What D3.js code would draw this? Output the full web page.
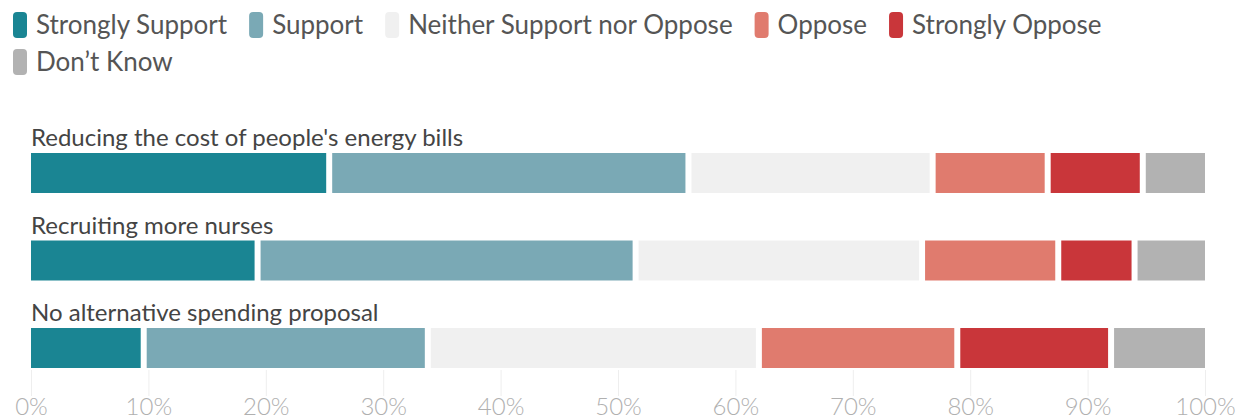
<!DOCTYPE html>
<html lang="en">
<head>
  <meta charset="UTF-8">
  <title>Support for spending proposals</title>
  <script src="https://d3js.org/d3.v7.min.js"></script>
  <style>
    body { margin: 0; background: #fff; }
    text { font-family: Lato, "Open Sans", sans-serif; }
    .legend-label { fill: #555; font-size: 26px; }
    .row-label { fill: #444; font-size: 24px; }
    .axis text { fill: #b0b0b0; font-size: 24px; font-weight: 300; }
    .axis .domain { display: none; }
    .axis line { stroke: #eee; }
  </style>
</head>
<body>
  <div id="chart"></div>
  <script>
    var w = 1244;
    var h = 420;

    // data
    var categories = [
      "Reducing the cost of people's energy bills",
      "Recruiting more nurses",
      "No alternative spending proposal"
    ];
    var responses = ["Strongly Support", "Support", "Neither Support nor Oppose",
                     "Oppose", "Strongly Oppose", "Don\u2019t Know"];
    var colours = ["#1a8593", "#7aa9b5", "#f0f0f0", "#e07b6e", "#c9363a", "#b2b2b2"];
    var stronglySupport = [25.4, 19.3, 9.6];
    var support = [30.6, 32.2, 24.2];
    var neither = [20.8, 24.4, 28.2];
    var oppose = [9.8, 11.6, 16.9];
    var stronglyOppose = [8.1, 6.5, 13.1];
    var dontKnow = [5.3, 6.0, 8.0];
    var tickValues = [0, 10, 20, 30, 40, 50, 60, 70, 80, 90, 100];

    var seriesValues = [stronglySupport, support, neither, oppose, stronglyOppose, dontKnow];
    var rows = categories.map(function(c, i) {
      var r = { category: c };
      responses.forEach(function(k, j) { r[k] = seriesValues[j][i]; });
      return r;
    });

    var svg = d3.select("#chart").append("svg")
      .attr("width", w)
      .attr("height", h);

    var x = d3.scaleLinear().domain([0, 100]).range([31, 1205]);
    var y = d3.scaleBand().domain(categories).range([153, 368]).paddingInner(0.543);
    var gap = 3; // half of the white gap between segments

    // legend (wraps onto a second row)
    var legend = svg.append("g").attr("class", "legend");
    var lx = 13, ly = 25, maxW = 1120;
    responses.forEach(function(name, i) {
      var item = legend.append("g");
      item.append("rect")
        .attr("x", 0).attr("y", -13)
        .attr("width", 14).attr("height", 26)
        .attr("rx", 4)
        .attr("fill", colours[i]);
      var t = item.append("text")
        .attr("class", "legend-label")
        .attr("x", 23).attr("dy", "0.35em")
        .text(name);
      var iw = 23 + t.node().getComputedTextLength() + 22;
      if (lx + iw - 22 > maxW) { lx = 13; ly += 37; }
      item.attr("transform", "translate(" + lx + "," + ly + ")");
      lx += iw;
    });

    // short gridlines with tick labels under the bars
    svg.append("g")
      .attr("class", "axis")
      .attr("transform", "translate(0,396)")
      .call(d3.axisBottom(x)
        .tickValues(tickValues)
        .tickSize(-26)
        .tickPadding(2)
        .tickFormat(function(d) { return d + "%"; }));

    var series = d3.stack().keys(responses)(rows);

    svg.append("g").selectAll("g")
      .data(series)
      .join("g")
        .attr("fill", function(d, i) { return colours[i]; })
      .selectAll("rect")
      .data(function(d) { return d; })
      .join("rect")
        .attr("x", function(d) { return x(d[0]) + (d[0] > 0 ? gap : 0); })
        .attr("y", function(d) { return y(d.data.category); })
        .attr("width", function(d) {
          var x0 = x(d[0]) + (d[0] > 0 ? gap : 0);
          var x1 = x(d[1]) - (d[1] < 99.9 ? gap : 0);
          return Math.max(0, x1 - x0);
        })
        .attr("height", y.bandwidth());

    svg.append("g").selectAll("text")
      .data(categories)
      .join("text")
        .attr("class", "row-label")
        .attr("x", 31)
        .attr("y", function(d) { return y(d) - 7; })
        .text(function(d) { return d; });
  </script>
</body>
</html>
